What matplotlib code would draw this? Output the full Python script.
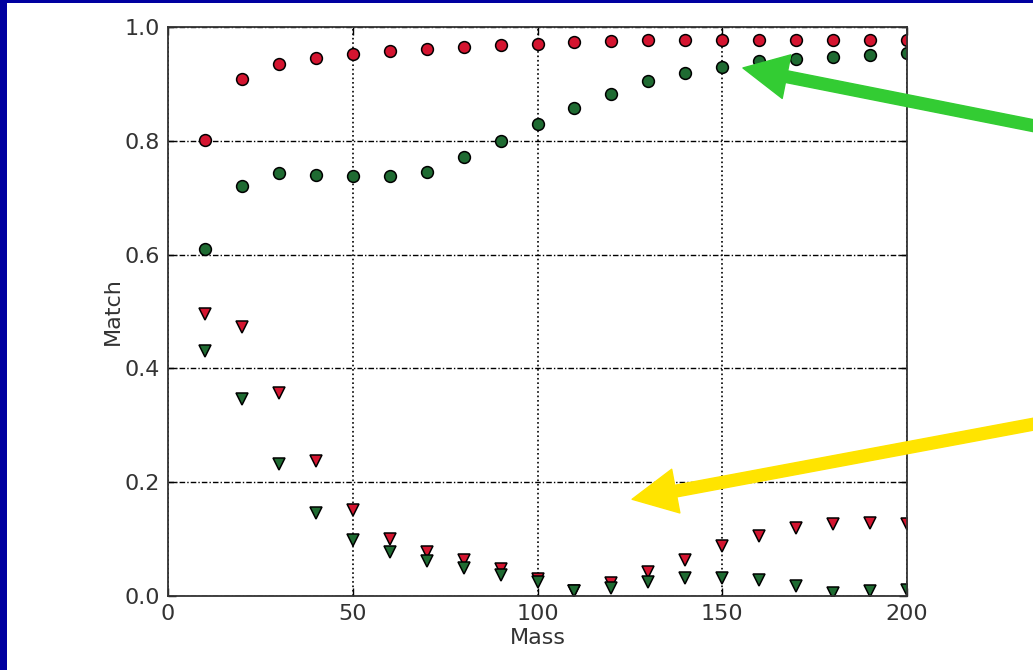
import matplotlib
matplotlib.use("Agg")
import matplotlib.pyplot as plt
from matplotlib.patches import Rectangle

mass = [10, 20, 30, 40, 50, 60, 70, 80, 90, 100,
        110, 120, 130, 140, 150, 160, 170, 180, 190, 200]

# upper curves (circles)
match_red = [0.801, 0.908, 0.935, 0.946, 0.953, 0.957, 0.961, 0.964, 0.968, 0.971,
             0.974, 0.975, 0.977, 0.977, 0.977, 0.978, 0.977, 0.978, 0.978, 0.978]
match_green = [0.609, 0.720, 0.743, 0.740, 0.739, 0.739, 0.745, 0.772, 0.800, 0.830,
               0.857, 0.883, 0.905, 0.920, 0.930, 0.941, 0.943, 0.947, 0.951, 0.954]

# lower curves (triangles)
low_red = [0.496, 0.473, 0.357, 0.238, 0.152, 0.101, 0.078, 0.064, 0.047, 0.029,
           0.008, 0.023, 0.043, 0.063, 0.087, 0.105, 0.120, 0.126, 0.129, 0.126]
low_green = [0.431, 0.347, 0.232, 0.145, 0.098, 0.077, 0.062, 0.049, 0.037, 0.025,
             0.008, 0.014, 0.025, 0.031, 0.031, 0.028, 0.018, 0.006, 0.008, 0.011]

xticks = [0, 50, 100, 150, 200]
yticks = [0.0, 0.2, 0.4, 0.6, 0.8, 1.0]

RED = "#d41530"
GREEN = "#1f6b32"

fig = plt.figure(figsize=(10.33, 6.70), dpi=100)
fig.patch.set_facecolor("white")

# navy frame strips along the left and top edges
fig.patches.append(Rectangle((0, 0), 7 / 1033, 1, transform=fig.transFigure,
                             facecolor="#0000a0", edgecolor="none", zorder=0))
fig.patches.append(Rectangle((0, 1 - 3 / 670), 1, 3 / 670, transform=fig.transFigure,
                             facecolor="#0000a0", edgecolor="none", zorder=0))

ax = fig.add_axes([168 / 1033, 74 / 670, 739 / 1033, 569 / 670])

kw = dict(linestyle="none", markeredgecolor="black", markeredgewidth=1.1,
          markersize=8.5, clip_on=True)
ax.plot(mass, match_red, marker="o", color=RED, **kw)
ax.plot(mass, match_green, marker="o", color=GREEN, **kw)
ax.plot(mass, low_red, marker="v", color=RED, **kw)
ax.plot(mass, low_green, marker="v", color=GREEN, **kw)

ax.set_xlim(0, 200)
ax.set_ylim(0, 1.0)
ax.set_xticks(xticks)
ax.set_yticks(yticks)
ax.set_yticklabels([f"{v:.1f}" for v in yticks])

ax.xaxis.grid(True, color="black", linestyle=":", linewidth=1.2)
ax.yaxis.grid(True, color="black", linestyle=(0, (4, 1.5, 1, 1.5)), linewidth=1.0)
ax.set_axisbelow(True)

for s in ax.spines.values():
    s.set_linewidth(1.3)
    s.set_color("#333333")

ax.tick_params(direction="in", length=6, width=1, top=True, right=True,
               labelsize=16, labelcolor="#333333", pad=6)
ax.set_xlabel("Mass", fontsize=16, color="#333333", labelpad=3)
ax.set_ylabel("Match", fontsize=16, color="#333333", labelpad=1)

# pointer arrows coming in from the right margin
ax.annotate("", xy=(155.6, 0.928), xycoords="data",
            xytext=(1045, 670 - 128), textcoords="figure pixels",
            arrowprops=dict(color="#33cc33", width=8.5, headwidth=32, headlength=32,
                            shrink=0),
            annotation_clip=False)
ax.annotate("", xy=(125.6, 0.170), xycoords="data",
            xytext=(1045, 670 - 422), textcoords="figure pixels",
            arrowprops=dict(color="#ffe400", width=8.5, headwidth=32, headlength=32,
                            shrink=0),
            annotation_clip=False)

fig.savefig("out.png", dpi=100)
